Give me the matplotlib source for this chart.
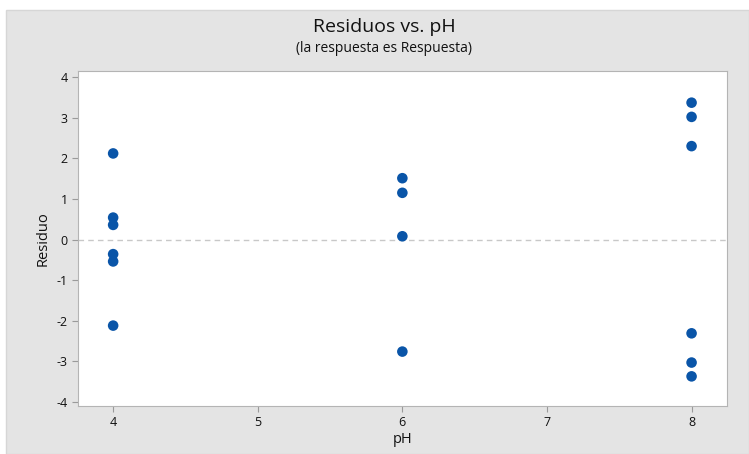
import matplotlib
matplotlib.use("agg")
import matplotlib.pyplot as plt
from matplotlib.patches import Rectangle

# residuals grouped by pH level
ph_4 = [2.12, 0.54, 0.36, -0.36, -0.54, -2.12]
ph_6 = [1.51, 1.15, 0.08, -2.76]
ph_8 = [3.37, 3.02, 2.30, -2.31, -3.03, -3.37]
ph_levels = [4, 6, 8]
x_ticks = [4, 5, 6, 7, 8]
y_ticks = [-4, -3, -2, -1, 0, 1, 2, 3, 4]

plt.rcParams['font.family'] = ['Open Sans', 'DejaVu Sans']
plt.rcParams['axes.unicode_minus'] = False

W, H = 749, 454
fig = plt.figure(figsize=(W / 100, H / 100), dpi=100, facecolor='white')

# grey panel behind the whole chart
fig.patches.append(Rectangle((6 / W, 0), 1 - 6 / W, 1 - 10 / H,
                             transform=fig.transFigure, facecolor='#e4e4e4',
                             edgecolor='#d6d6d6', lw=1, zorder=-10))

ax = fig.add_axes([78 / W, 1 - 406 / H, (727 - 78) / W, (406 - 71) / H])
ax.set_facecolor('white')

xs, ys = [], []
for level, vals in zip(ph_levels, [ph_4, ph_6, ph_8]):
    xs += [level] * len(vals)
    ys += vals
ax.scatter(xs, ys, s=58, color='#0a55a8', edgecolors='none', zorder=3)

ax.axhline(0, color='#c8c8c8', lw=1, ls=(0, (4, 3)), zorder=1)

ax.set_xlim(3.757, 8.245)
ax.set_ylim(-4.1, 4.15)
ax.set_xticks(x_ticks)
ax.set_yticks(y_ticks)
ax.tick_params(axis='both', colors='#9a9a9a', labelcolor='#111111',
               labelsize=9, length=4, width=0.8)

for sp in ax.spines.values():
    sp.set_color('#b4b4b4')
    sp.set_linewidth(0.8)

ax.set_xlabel('pH', fontsize=10.5, color='#111111', labelpad=2)
ax.set_ylabel('Residuo', fontsize=10.5, color='#111111', labelpad=4)

fig.text(384 / W, 1 - 27 / H, 'Residuos vs. pH', ha='center', va='center',
         fontsize=14, color='#111111', fontweight='medium')
fig.text(384 / W, 1 - 48 / H, '(la respuesta es Respuesta)', ha='center',
         va='center', fontsize=10, color='#111111')

plt.savefig('out.png', dpi=100, facecolor=fig.get_facecolor())
